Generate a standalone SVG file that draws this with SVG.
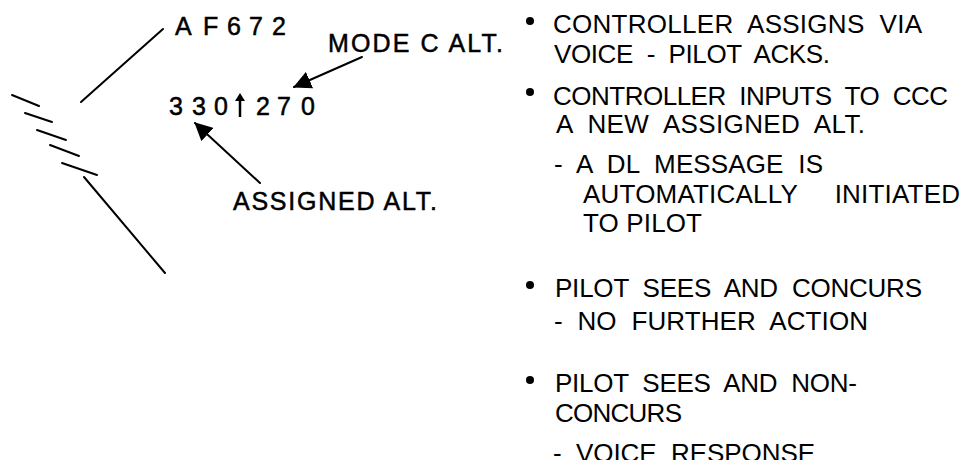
<svg xmlns="http://www.w3.org/2000/svg" width="961" height="460" viewBox="0 0 961 460">
<style>
  .t { font-family: "Liberation Sans", Arial, Helvetica, sans-serif; font-size: 26px; fill: #000; }
  .lbl { font-family: "Liberation Sans", Arial, Helvetica, sans-serif; font-size: 25px; fill: #000; stroke: #000; stroke-width: 0.5; }
  .ln { stroke: #000; stroke-width: 2; fill: none; stroke-linecap: round; }
  .bul { fill: #000; }
</style>
<defs>
  <marker id="ah" viewBox="0 0 18 18" refX="17" refY="9" markerWidth="18" markerHeight="18" markerUnits="userSpaceOnUse" orient="auto">
    <path d="M0,0 L18,9 L0,18 Z" fill="#000"/>
  </marker>
</defs>
<rect width="961" height="460" fill="#fff"/>

<g id="track">
  <line class="ln" x1="12" y1="95" x2="39" y2="106"/>
  <line class="ln" x1="25" y1="113" x2="52" y2="122"/>
  <line class="ln" x1="37" y1="130" x2="66" y2="140"/>
  <line class="ln" x1="50" y1="145" x2="79" y2="156"/>
  <line class="ln" x1="62" y1="163" x2="97" y2="175" stroke-width="4"/>
</g>

<g id="datablock">
  <text id="acid" class="lbl" x="175 203 227 249 272" y="35">AF672</text>
  <text id="alt1" class="lbl" font-size="24.5" x="169 192 214" y="115">330</text>
  <g id="climb">
    <line x1="240" y1="117" x2="240" y2="100" stroke="#000" stroke-width="2.5"/>
    <path d="M235,101 L240,93 L245,101 Z" fill="#000"/>
  </g>
  <text id="alt2" class="lbl" font-size="24.5" x="256 277 301" y="115">270</text>
</g>

<g id="labels">
  <text id="modec" class="lbl" font-size="26" x="328" y="52" textLength="175" lengthAdjust="spacing">MODE C ALT.</text>
  <text id="assigned" class="lbl" font-size="26" x="233" y="210" textLength="204" lengthAdjust="spacing">ASSIGNED ALT.</text>
</g>

<g id="connectors">
  <line class="ln" x1="163" y1="29" x2="81" y2="102"/>
  <line class="ln" x1="84" y1="177" x2="165" y2="273"/>
  <line class="ln" stroke-width="2.5" x1="362" y1="57" x2="294" y2="87" marker-end="url(#ah)"/>
  <line class="ln" stroke-width="2.5" x1="260" y1="183" x2="195" y2="123" marker-end="url(#ah)"/>
</g>

<g id="notes">
  <circle class="bul" cx="530" cy="21" r="4"/>
  <circle class="bul" cx="530" cy="92" r="4"/>
  <circle class="bul" cx="530" cy="285" r="4"/>
  <circle class="bul" cx="530" cy="380" r="4"/>
  <text class="t" xml:space="preserve" x="553" y="33" textLength="369" lengthAdjust="spacing">CONTROLLER  ASSIGNS  VIA</text>
  <text class="t" xml:space="preserve" x="554" y="63" textLength="276" lengthAdjust="spacing">VOICE  -  PILOT  ACKS.</text>
  <text class="t" xml:space="preserve" x="553" y="105" textLength="395" lengthAdjust="spacing">CONTROLLER  INPUTS  TO  CCC</text>
  <text class="t" xml:space="preserve" x="556" y="133" textLength="309" lengthAdjust="spacing">A  NEW  ASSIGNED  ALT.</text>
  <text class="t" xml:space="preserve" x="554" y="173" textLength="269" lengthAdjust="spacing">-  A  DL  MESSAGE  IS</text>
  <text class="t" xml:space="preserve" x="583" y="203" textLength="377" lengthAdjust="spacing">AUTOMATICALLY     INITIATED</text>
  <text class="t" xml:space="preserve" x="583" y="232" textLength="119" lengthAdjust="spacing">TO PILOT</text>
  <text class="t" xml:space="preserve" x="555" y="297" textLength="367" lengthAdjust="spacing">PILOT  SEES  AND  CONCURS</text>
  <text class="t" xml:space="preserve" x="554" y="330" textLength="314" lengthAdjust="spacing">-  NO  FURTHER  ACTION</text>
  <text class="t" xml:space="preserve" x="555" y="392" textLength="302" lengthAdjust="spacing">PILOT  SEES  AND  NON-</text>
  <text class="t" xml:space="preserve" x="555" y="422" textLength="127" lengthAdjust="spacing">CONCURS</text>
  <text class="t" xml:space="preserve" x="553" y="462" textLength="262" lengthAdjust="spacing">-  VOICE  RESPONSE</text>
</g>
</svg>
